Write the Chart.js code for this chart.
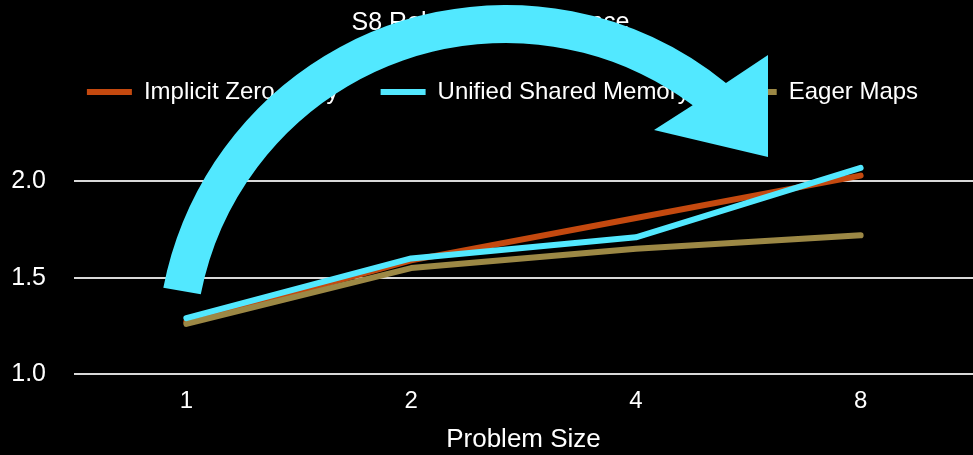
<!DOCTYPE html>
<html>
<head>
<meta charset="utf-8">
<script src="https://cdn.jsdelivr.net/npm/chart.js@4/dist/chart.umd.min.js"></script>
<style>
  html, body { margin: 0; padding: 0; background: #000; overflow: hidden; }
  #wrap { width: 973px; height: 455px; position: relative; }
</style>
</head>
<body>
<div id="wrap"><canvas id="chart"></canvas></div>
<script>
// Problem sizes on the x axis
const problemSizes = ['1', '2', '4', '8'];

// Relative performance per memory model
const implicitZeroCopy = [1.27, 1.59, 1.81, 2.03];
const unifiedSharedMemory = [1.29, 1.60, 1.71, 2.07];
const eagerMaps = [1.26, 1.55, 1.65, 1.72];

// Labelled y-axis ticks
const yTicks = [1.0, 1.5, 2.0];

const ORANGE = '#C4490F';
const CYAN = '#52E8FF';
const TAN = '#9C8845';

Chart.defaults.font.family = '"Liberation Sans", Arial, sans-serif';
Chart.defaults.font.size = 24;
Chart.defaults.color = '#FFFFFF';

// Big curved callout arrow sweeping over the title towards the top-right
const curvedArrow = {
  id: 'curvedArrow',
  afterDraw(chart) {
    const ctx = chart.ctx;
    const cx = 506, cy = 354, rOuter = 349, rInner = 311;
    const tailOuter = Math.atan2(288 - cy, 164 - cx);
    const tailInner = Math.atan2(294 - cy, 199 - cx);
    const endOuter = Math.atan2(83 - cy, 726 - cx);
    const endInner = Math.atan2(105 - cy, 693 - cx);
    ctx.save();
    ctx.fillStyle = CYAN;
    ctx.beginPath();
    ctx.arc(cx, cy, rOuter, tailOuter, endOuter, false);
    ctx.lineTo(768, 55);
    ctx.lineTo(768, 157);
    ctx.lineTo(654, 130);
    ctx.lineTo(693, 105);
    ctx.arc(cx, cy, rInner, endInner, tailInner, true);
    ctx.closePath();
    ctx.fill();
    ctx.restore();
  }
};

// Nudge the legend row a little to the right of the full-width centre
const legendNudge = {
  id: 'legendNudge',
  afterLayout(chart) {
    if (chart.legend) chart.legend.left = 32;
  }
};

function lineSet(label, data, color, order) {
  return {
    label, data, order,
    borderColor: color,
    backgroundColor: color,
    borderWidth: 6,
    borderCapStyle: 'round',
    borderJoinStyle: 'round',
    pointRadius: 0,
    pointHoverRadius: 0,
    pointStyle: 'line',
    tension: 0,
    fill: false
  };
}

new Chart(document.getElementById('chart'), {
  type: 'line',
  data: {
    labels: problemSizes,
    datasets: [
      lineSet('Implicit Zero-Copy', implicitZeroCopy, ORANGE, 2),
      lineSet('Unified Shared Memory', unifiedSharedMemory, CYAN, 0),
      lineSet('Eager Maps', eagerMaps, TAN, 1)
    ]
  },
  options: {
    responsive: true,
    maintainAspectRatio: false,
    animation: false,
    layout: { padding: { left: 8, right: 0, top: 0, bottom: 0 } },
    plugins: {
      title: {
        display: true,
        text: 'S8 Relative Performance',
        color: '#FFFFFF',
        font: { size: 25, weight: 'normal' },
        padding: { top: 8, bottom: 0 }
      },
      legend: {
        display: true,
        position: 'top',
        labels: {
          usePointStyle: true,
          pointStyleWidth: 45,
          padding: 42,
          color: '#FFFFFF',
          font: { size: 24 },
          sort: (a, b) => a.datasetIndex - b.datasetIndex
        }
      },
      tooltip: { enabled: false }
    },
    scales: {
      x: {
        type: 'category',
        offset: true,
        afterFit: (scale) => { scale.height = 81; },
        grid: { display: false, drawTicks: false },
        border: { display: false },
        ticks: { padding: 13, color: '#FFFFFF', font: { size: 24 } },
        title: {
          display: true,
          text: 'Problem Size',
          color: '#FFFFFF',
          font: { size: 26 },
          padding: { top: 10, bottom: 0 }
        }
      },
      y: {
        min: 1.0,
        max: 2.35,
        afterBuildTicks: (scale) => { scale.ticks = yTicks.map(v => ({ value: v })); },
        afterFit: (scale) => {
          scale.width = 66;
          scale.paddingTop = 0;
          scale.paddingBottom = 0;
        },
        grid: { color: '#D9D9D9', lineWidth: 2, drawTicks: false },
        border: { display: false },
        ticks: {
          padding: 28,
          color: '#FFFFFF',
          font: { size: 25 },
          callback: (v) => Number(v).toFixed(1)
        }
      }
    }
  },
  plugins: [curvedArrow, legendNudge]
});
</script>
</body>
</html>
